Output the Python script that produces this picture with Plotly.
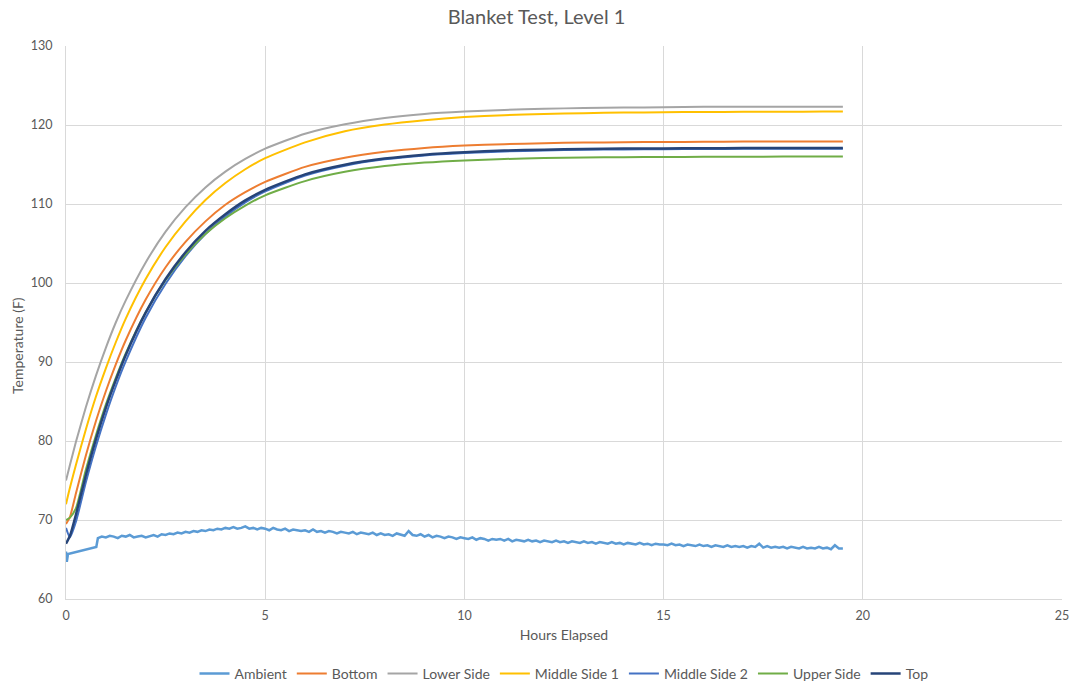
import plotly.graph_objects as go

# Sample times (hours) for the heated-surface probes
probe_hours = [0, 0.1, 0.25, 0.5, 0.75, 1, 1.25, 1.5, 2, 2.5, 3, 3.5, 4, 4.5, 5,
               6, 7, 8, 9, 10, 11, 12, 13, 14, 15, 16, 17, 18, 19, 19.5]

bottom = [69.5, 70.4, 73.4, 78.2, 82.5, 86.3, 89.7, 92.75, 97.9, 102.0, 105.2, 107.8,
          109.9, 111.5, 112.8, 114.7, 115.85, 116.6, 117.1, 117.4, 117.57, 117.7,
          117.77, 117.82, 117.85, 117.87, 117.9, 117.9, 117.9, 117.9]
lower_side = [75.0, 77.0, 79.9, 84.3, 88.25, 91.8, 95.0, 97.8, 102.6, 106.5, 109.6,
              112.1, 114.1, 115.7, 117.0, 118.9, 120.1, 120.9, 121.4, 121.7, 121.9,
              122.05, 122.15, 122.2, 122.25, 122.3, 122.3, 122.3, 122.3, 122.3]
middle_side_1 = [72.0, 74.1, 77.0, 81.5, 85.6, 89.2, 92.5, 95.5, 100.5, 104.55, 107.8,
                 110.5, 112.65, 114.4, 115.8, 117.8, 119.2, 120.05, 120.6, 121.0,
                 121.25, 121.4, 121.5, 121.57, 121.62, 121.65, 121.67, 121.68, 121.7, 121.7]
middle_side_2 = [69.0, 67.8, 69.8, 74.8, 79.3, 83.3, 86.9, 90.1, 95.6, 99.9, 103.4,
                 106.2, 108.4, 110.2, 111.6, 113.6, 114.85, 115.65, 116.15, 116.45,
                 116.65, 116.78, 116.86, 116.91, 116.94, 116.96, 116.98, 117.0, 117.0, 117.0]
upper_side = [70.0, 70.3, 71.5, 76.4, 80.7, 84.6, 88.0, 91.1, 96.3, 100.4, 103.6, 106.2,
              108.2, 109.8, 111.1, 112.9, 114.07, 114.8, 115.24, 115.52, 115.7, 115.81,
              115.88, 115.93, 115.95, 115.97, 115.98, 116.0, 116.0, 116.0]
top = [67.0, 68.0, 70.7, 75.7, 80.2, 84.2, 87.7, 90.9, 96.25, 100.5, 103.9, 106.6,
       108.7, 110.45, 111.8, 113.75, 114.97, 115.75, 116.25, 116.56, 116.76, 116.88,
       116.96, 117.01, 117.04, 117.06, 117.08, 117.1, 117.1, 117.1]

# Ambient: start-up segment, then readings every 0.1 h from 0.8 h
ambient_start_hours = [0, 0.02, 0.05, 0.4, 0.76]
ambient_start = [66.0, 64.7, 65.7, 66.1, 66.6]
ambient_readings = [
    67.7, 67.9,
    67.8, 68.0, 67.9, 67.7, 68.0, 67.9, 68.1, 67.8, 67.9, 68.0,
    67.8, 68.0, 68.1, 67.9, 68.2, 68.1, 68.3, 68.2, 68.4, 68.3,
    68.5, 68.4, 68.6, 68.5, 68.7, 68.6, 68.8, 68.7, 68.9, 68.8,
    69.0, 68.9, 69.1, 68.9, 69.0, 69.2, 68.9, 69.0, 68.8, 69.0,
    68.9, 68.7, 69.0, 68.8, 68.7, 68.9, 68.6, 68.8, 68.7, 68.6,
    68.7, 68.5, 68.8, 68.5, 68.6, 68.4, 68.6, 68.5, 68.3, 68.5,
    68.4, 68.3, 68.5, 68.2, 68.4, 68.3, 68.2, 68.4, 68.1, 68.3,
    68.1, 68.2, 68.0, 68.3, 68.1, 68.0, 68.6, 68.1, 68.0, 68.2,
    67.9, 68.1, 67.8, 68.0, 67.9, 67.7, 67.9, 67.8, 67.6, 67.8,
    67.7, 67.6, 67.8, 67.5, 67.7, 67.6, 67.4, 67.6, 67.5, 67.6,
    67.4, 67.6, 67.3, 67.5, 67.4, 67.3, 67.5, 67.3, 67.4, 67.2,
    67.4, 67.3, 67.2, 67.4, 67.2, 67.3, 67.1, 67.3, 67.2, 67.1,
    67.3, 67.1, 67.2, 67.0, 67.2, 67.1, 67.0, 67.2, 67.0, 67.1,
    66.9, 67.1, 67.0, 66.9, 67.1, 66.9, 67.0, 66.8, 67.0, 66.9,
    66.9, 66.8, 67.0, 66.8, 66.9, 66.7, 66.9, 66.8, 66.7, 66.9,
    66.7, 66.8, 66.6, 66.8, 66.7, 66.6, 66.8, 66.6, 66.7, 66.6,
    66.7, 66.5, 66.7, 66.6, 67.0, 66.5, 66.7, 66.5, 66.6, 66.5,
    66.6, 66.4, 66.6, 66.5, 66.4, 66.6, 66.4, 66.5, 66.4, 66.6,
    66.4, 66.5, 66.3, 66.8, 66.4,
]
ambient_end_hour = 19.5
ambient_end = 66.4

ambient_hours = (ambient_start_hours
                 + [round(0.8 + 0.1 * i, 2) for i in range(len(ambient_readings))]
                 + [ambient_end_hour])
ambient = ambient_start + ambient_readings + [ambient_end]

x_ticks = [0, 5, 10, 15, 20, 25]
y_ticks = [60, 70, 80, 90, 100, 110, 120, 130]

text_color = "#595959"
grid_color = "#d9d9d9"
font_family = "Lato, Liberation Sans, sans-serif"

fig = go.Figure()

series = [
    ("Ambient", ambient_hours, ambient, "#5B9BD5", 2.5, "linear"),
    ("Bottom", probe_hours, bottom, "#ED7D31", 2, "spline"),
    ("Lower Side", probe_hours, lower_side, "#A5A5A5", 2, "spline"),
    ("Middle Side 1", probe_hours, middle_side_1, "#FFC000", 2, "spline"),
    ("Middle Side 2", probe_hours, middle_side_2, "#4472C4", 2, "spline"),
    ("Upper Side", probe_hours, upper_side, "#70AD47", 2, "spline"),
    ("Top", probe_hours, top, "#264478", 2.5, "spline"),
]
for name, xs, ys, color, width, shape in series:
    fig.add_trace(go.Scatter(
        x=xs, y=ys, name=name, mode="lines",
        line=dict(color=color, width=width, shape=shape, smoothing=0.6),
    ))

fig.update_layout(
    width=1073, height=685,
    margin=dict(l=66, r=11, t=46, b=86, autoexpand=False),
    paper_bgcolor="white", plot_bgcolor="white",
    font=dict(family=font_family, color=text_color, size=12),
    title=dict(text="Blanket Test, Level 1", x=0.5, xanchor="center",
               y=1 - 17 / 685, yanchor="middle",
               font=dict(size=20, color=text_color, family=font_family)),
    showlegend=True,
    legend=dict(orientation="h", x=0.5, xanchor="center",
                y=-(674 - 599) / 553, yanchor="middle",
                font=dict(size=14, color=text_color), itemwidth=30,
                tracegroupgap=0),
    xaxis=dict(range=[0, 25], tickvals=x_ticks, showgrid=True, gridcolor=grid_color,
               gridwidth=1, zeroline=False, showline=True, linecolor=grid_color,
               ticks="", ticklabelstandoff=5,
               tickfont=dict(size=12.5, color=text_color),
               title=dict(text="Hours Elapsed", standoff=8,
                          font=dict(size=14, color=text_color))),
    yaxis=dict(range=[60, 130], tickvals=y_ticks, showgrid=True, gridcolor=grid_color,
               gridwidth=1, zeroline=False, showline=True, linecolor=grid_color,
               ticks="", ticklabelstandoff=10,
               tickfont=dict(size=12.5, color=text_color)),
    annotations=[dict(text="Temperature (F)", textangle=-90, xref="paper", yref="paper",
                      x=-(66 - 17) / 996, y=(599 - 346) / 553, xanchor="center",
                      yanchor="middle", showarrow=False,
                      font=dict(size=14, color=text_color))],
)

fig.write_html("out.html")
